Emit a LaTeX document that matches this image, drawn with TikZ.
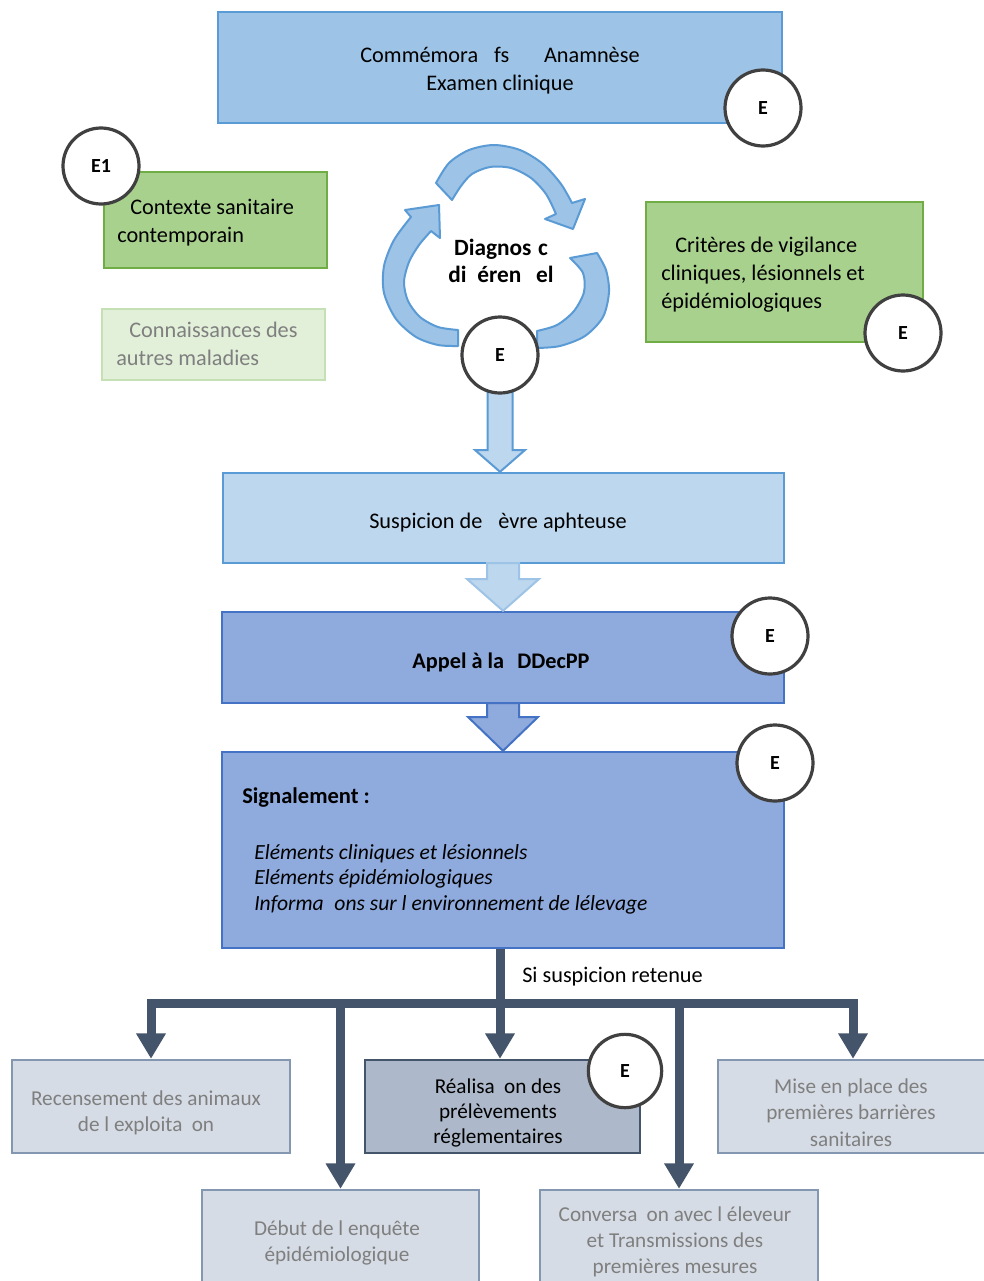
\documentclass[tikz,border=0pt]{standalone}
\usepackage{fontspec}
\setmainfont{Carlito}
\usetikzlibrary{arrows.meta,calc}
\definecolor{topfill}{HTML}{9DC3E6}
\definecolor{topdraw}{HTML}{5B9BD5}
\definecolor{susfill}{HTML}{BDD7EE}
\definecolor{appfill}{HTML}{8FAADC}
\definecolor{appdraw}{HTML}{4472C4}
\definecolor{grfill}{HTML}{A9D18E}
\definecolor{grdraw}{HTML}{70AD47}
\definecolor{lgfill}{HTML}{E2F0D9}
\definecolor{lgdraw}{HTML}{C5E0B4}
\definecolor{graytxt}{HTML}{7F7F7F}
\definecolor{botfill}{HTML}{D6DCE5}
\definecolor{botdraw}{HTML}{8497B0}
\definecolor{realfill}{HTML}{ADB9CA}
\definecolor{slate}{HTML}{44546A}
\definecolor{circgray}{HTML}{404040}
\begin{document}
\begin{tikzpicture}[x=0.75pt,y=-0.75pt,
  every node/.style={font=\fontsize{16.7}{21}\selectfont},
  wh/.style 2 args={minimum width=#1*0.75pt, minimum height=#2*0.75pt},
  box/.style={draw, line width=1.8pt, inner sep=0pt},
  txt/.style={align=center, inner sep=0pt},
  ltxt/.style={align=left, inner sep=0pt, anchor=west},
  bbox/.style={box, fill=botfill, draw=botdraw},
  btxt/.style={txt, text=graytxt, font=\fontsize{15.9}{19.7}\selectfont},
  circ/.style={circle, draw=circgray, line width=2.4pt, fill=white, minimum size=57pt, inner sep=0pt, font=\bfseries\fontsize{15}{17}\selectfont},
  cyc/.style={fill=topfill, draw=topdraw, line width=1.5pt, line join=round},
  blk/.style={line width=1.5pt, line join=miter},
  tree/.style={draw=slate, line width=6.75pt},
  treearr/.style={tree, -{Triangle[length=19pt,width=21pt]}}]
\useasboundingbox (0,0) rectangle (984,1281);
\fill[white] (0,0) rectangle (984,1281);

% top box
\node[box, fill=topfill, draw=topdraw, wh={564}{111}] (top) at (500,67.5) {};
\node[txt] (topt) at (500,70.5) {Commémora\hspace{12pt}fs\hspace{26pt}Anamnèse\\Examen clinique};
\node[circ] (eTop) at (763,108) {E};

% left boxes
\node[box, fill=grfill, draw=grdraw, wh={223}{96}] (ctx) at (215.5,220) {};
\node[ltxt] (ctxt) at (117,223) {\hspace*{9.75pt}Contexte sanitaire\\contemporain};
\node[circ] (eOne) at (101,166) {E1};
\node[box, fill=lgfill, draw=lgdraw, wh={223}{71}] (conn) at (213.5,344.5) {};
\node[ltxt, text=graytxt] (connt) at (116,344) {\hspace*{9.75pt}Connaissances des\\autres maladies};

% right box
\node[box, fill=grfill, draw=grdraw, wh={277}{140}] (crit) at (784.5,272) {};
\node[ltxt] (critt) at (661,275) {\hspace*{10.5pt}Critères de vigilance\\cliniques, lésionnels et\\épidémiologiques};
\node[circ] (eCrit) at (903,333) {E};

% cycle arrows
\filldraw[cyc] plot[smooth] coordinates {(436,183) (449,163) (469,150) (494,145) (520,150) (543,164) (561,184) (572,203)}
  -- (585,199) -- (573,229) -- (545,219) -- (556,214)
  -- plot[smooth] coordinates {(556,214) (546,194) (531,178) (511,168) (490,167) (472,174) (461,186) (452,200)} -- cycle;
\filldraw[cyc] plot[smooth] coordinates {(458,346) (438,345) (416,337) (396,319) (384,293) (384,266) (394,240) (411,217)}
  -- (405,210) -- (439,205) -- (440,238) -- (431,231)
  -- plot[smooth] coordinates {(431,231) (419,245) (409,262) (404,282) (408,301) (420,317) (438,327) (458,330)} -- cycle;
\filldraw[cyc] plot[smooth] coordinates {(597,253) (606,270) (609,292) (603,317) (585,336) (560,346) (537,348)}
  -- (537,331)
  -- plot[smooth] coordinates {(537,331) (557,325) (574,311) (584,292) (583,273) (570,258)} -- cycle;
\node[txt, font=\bfseries\fontsize{17.5}{20.5}\selectfont] (diag) at (501,261)
  {Diagnos\hspace{5pt}c\\di\hspace{8pt}éren\hspace{11pt}el};

% suspicion
\node[box, fill=susfill, draw=topdraw, wh={561}{90}] (sus) at (503.5,518) {};
\node[txt] (sust) at (498,523) {Suspicion de\hspace{12pt}èvre aphteuse};
\coordinate (a1top) at (500,372);
\filldraw[blk, fill=susfill, draw=topdraw]
  ($(a1top)+(-12.5,0)$) -- ($(a1top)+(12.5,0)$) -- ($(a1top)+(12.5,78)$) -- ($(a1top)+(25,78)$)
  -- (sus.north -| a1top) -- ($(a1top)+(-25,78)$) -- ($(a1top)+(-12.5,78)$) -- cycle;
\node[circ] (eDiag) at (500,355) {E};

% appel
\node[box, fill=appfill, draw=appdraw, wh={562}{91}] (app) at (503,657.5) {};
\node[txt, font=\bfseries\fontsize{16.7}{21}\selectfont] (appt) at (501,662) {Appel à la\hspace{10pt}DDecPP};
\coordinate (a2) at (503,563);
\filldraw[blk, fill=susfill, draw=topfill]
  ($(a2)+(-16,0)$) -- ($(a2)+(16,0)$) -- ($(a2)+(16,16)$) -- ($(a2)+(36,16)$)
  -- (app.north -| a2) -- ($(a2)+(-36,16)$) -- ($(a2)+(-16,16)$) -- cycle;
\node[circ] (eApp) at (770,636) {E};

% signalement
\node[box, fill=appfill, draw=appdraw, wh={562}{196}] (sig) at (503,850) {};
\coordinate (a3) at (503,703);
\filldraw[blk, fill=appfill, draw=appdraw]
  ($(a3)+(-16,0)$) -- ($(a3)+(16,0)$) -- ($(a3)+(16,14)$) -- ($(a3)+(35,14)$)
  -- (sig.north -| a3) -- ($(a3)+(-35,14)$) -- ($(a3)+(-16,14)$) -- cycle;
\node[ltxt, font=\bfseries\fontsize{16.9}{21}\selectfont] (sigt) at (242,797) {Signalement :};
\node[ltxt, font=\itshape\fontsize{16.2}{19.1}\selectfont] (sigl) at (254,879)
  {Eléments cliniques et lésionnels\\Eléments épidémiologiques\\Informa\hspace{8pt}ons sur l environnement de lélevage};
\node[circ] (eSig) at (775,763) {E};

% bottom boxes
\node[bbox, wh={278}{93}] (rec) at (151,1106.5) {};
\node[btxt] (rect) at (146,1113) {Recensement des animaux\\de l exploita\hspace{7pt}on};
\node[box, fill=realfill, draw=slate, wh={275}{93}] (real) at (502.5,1106.5) {};
\node[txt, font=\fontsize{15.9}{18.9}\selectfont] (realt) at (498,1113) {Réalisa\hspace{7pt}on des\\prélèvements\\réglementaires};
\node[bbox, wh={270}{93}] (mise) at (853,1106.5) {};
\node[btxt] (miset) at (851,1112.5) {Mise en place des\\premières barrières\\sanitaires};
\node[bbox, wh={277}{100}] (deb) at (340.5,1240) {};
\node[bbox, wh={278}{100}] (conv) at (679,1240) {};
\node[btxt] (debt) at (337,1243) {Début de l enquête\\épidémiologique};
\node[btxt] (convt) at (675,1242) {Conversa\hspace{7pt}on avec l éleveur\\et Transmissions des\\premières mesures};

% tree connectors
\coordinate (j) at (500,1003);
\draw[tree] (sig.south -| j) -- (j);
\draw[treearr] (j) -| (rec.north);
\draw[treearr] (j) -| (deb.north);
\draw[treearr] (j) -- (j |- real.north);
\draw[treearr] (j) -| (conv.north);
\draw[treearr] (j) -| (mise.north);
\node[ltxt] (si) at (522,977) {Si suspicion retenue};
\node[circ, minimum size=55pt] (eReal) at (625,1071) {E};
\end{tikzpicture}
\end{document}
